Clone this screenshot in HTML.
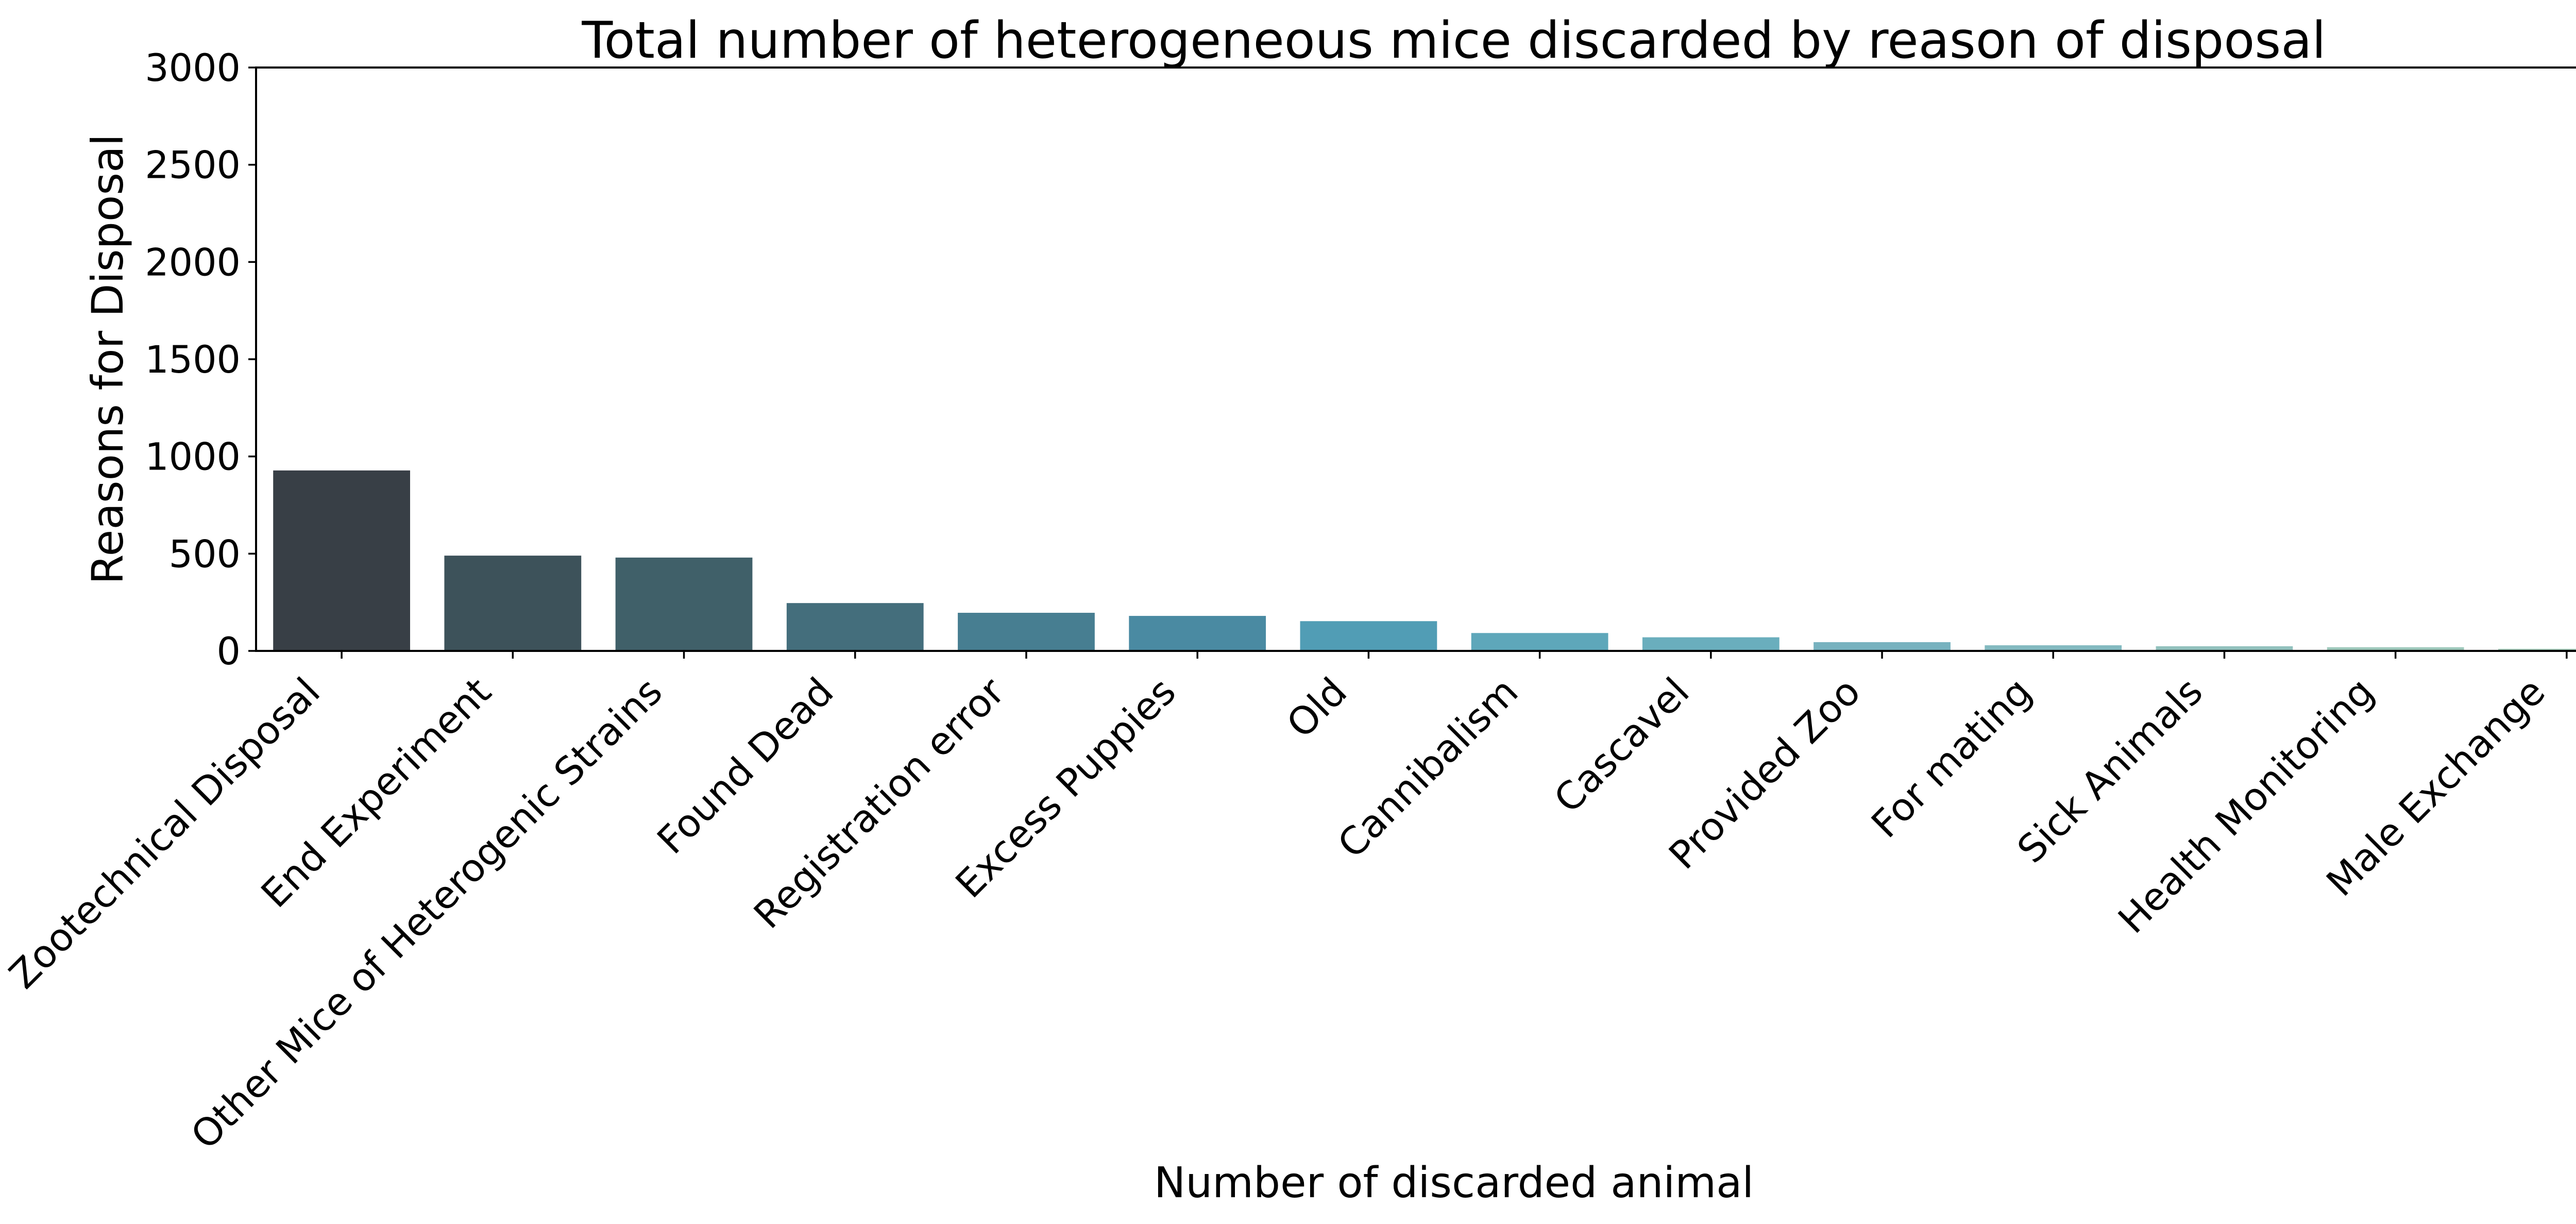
<!DOCTYPE html>
<html><head><meta charset="utf-8"><style>
html,body{margin:0;padding:0;background:#fff;}
svg text{font-family:"DejaVu Sans","Liberation Sans",sans-serif;fill:#000;}
</style></head><body>
<svg id="chart" width="5178" height="2370" viewBox="0 0 5178 2370" xmlns="http://www.w3.org/2000/svg">
<rect width="5178" height="2370" fill="#fff"/>
<text x="2822" y="112" font-size="98" text-anchor="middle">Total number of heterogeneous mice discarded by reason of disposal</text>
<text x="2822" y="2323" font-size="82" text-anchor="middle">Number of discarded animal</text>
<text transform="translate(238,697) rotate(-90)" font-size="84" text-anchor="middle">Reasons for Disposal</text>
<g id="bars"></g>
<g id="yticks"></g>
<g id="xticks"></g>
<rect x="497" y="131" width="4651" height="1132" fill="none" stroke="#000" stroke-width="4"/>
</svg>
<script>
const categories = ["Zootechnical Disposal","End Experiment","Other Mice of Heterogenic Strains","Found Dead","Registration error","Excess Puppies","Old","Cannibalism","Cascavel","Provided Zoo","For mating","Sick Animals","Health Monitoring","Male Exchange"];
const values = [928, 490, 480, 246, 196, 180, 153, 92, 70, 45, 29, 24, 19, 11];
const colors = ["#383f46","#3d525a","#406069","#446e7c","#477e91","#4a8aa2","#519db5","#5ea7ba","#6aaebd","#77b2bf","#84bac0","#92c1bd","#9ec8bb","#a8cfbd"];
const yTicks = [0, 500, 1000, 1500, 2000, 2500, 3000];

const NS = "http://www.w3.org/2000/svg";
const L = 497, R = 5148, T = 131, B = 1263, yMax = 3000;
const band = (R - L) / categories.length;
const xScale = i => L + band * (i + 0.5);
const yScale = v => B - (v / yMax) * (B - T);
function mk(tag, attrs, parent){ const e = document.createElementNS(NS, tag); for (const k in attrs) e.setAttribute(k, attrs[k]); parent.appendChild(e); return e; }

const gb = document.getElementById('bars');
values.forEach((v, i) => {
  const w = band * 0.8;
  const r = mk('rect', {x: xScale(i) - w/2, y: yScale(v), width: w, height: B - yScale(v), fill: colors[i]}, gb);
  
  
});

const gy = document.getElementById('yticks');
yTicks.forEach(t => {
  const y = yScale(t);
  const l = mk('line', {x1: L - 15, x2: L, y1: y, y2: y, stroke: '#000', 'stroke-width': 3.5}, gy);
  
  
  const tx = mk('text', {x: L - 30, y: y + 26, 'font-size': 73, 'text-anchor': 'end'}, gy);
  tx.textContent = String(t);
  
  
});

const gx = document.getElementById('xticks');
categories.forEach((c, i) => {
  const x = xScale(i);
  const l = mk('line', {x1: x, x2: x, y1: B, y2: B + 15, stroke: '#000', 'stroke-width': 3.5}, gx);
  
  
  const ax = x - 38, ay = B + 84;
  const tx = mk('text', {x: ax, y: ay, 'font-size': 74, 'text-anchor': 'end', transform: `rotate(-45 ${ax} ${ay})`}, gx);
  tx.textContent = c;
  
  
});
</script>
</body></html>
